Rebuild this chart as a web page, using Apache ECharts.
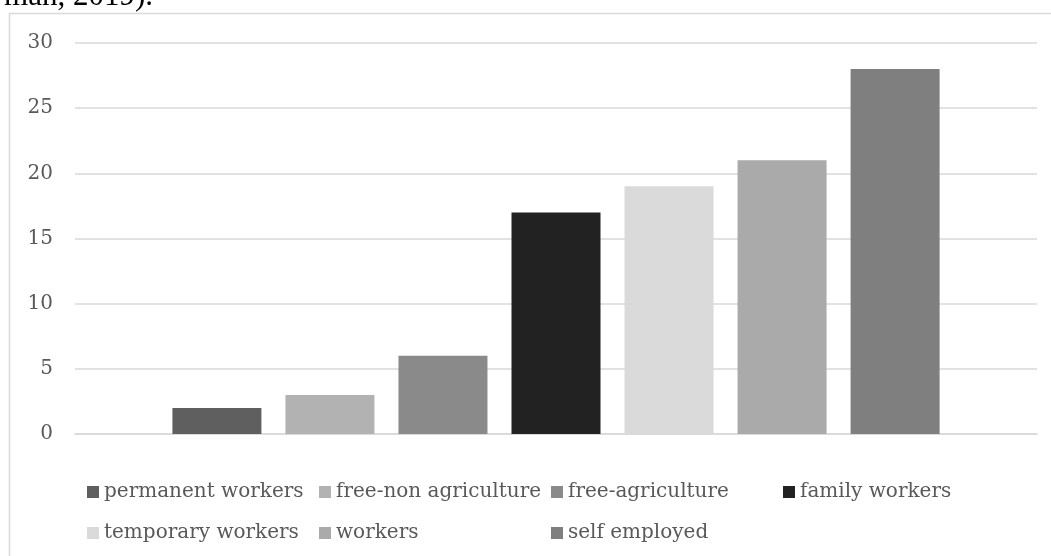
<!DOCTYPE html>
<html>
<head>
<meta charset="utf-8">
<script src="https://cdn.jsdelivr.net/npm/echarts@6/dist/echarts.min.js"></script>
<style>
html,body{margin:0;padding:0;background:#fff;}
#chart{width:1051px;height:556px;}
</style>
</head>
<body>
<div id="chart"></div>
<script>
const seriesNames = ['permanent workers','free-non agriculture','free-agriculture','family workers','temporary workers','workers','self employed'];
const seriesValues = [2, 3, 6, 17, 19, 21, 28];
const seriesColors = ['#5f5f5f','#b2b2b2','#8a8a8a','#222222','#dadada','#aaaaaa','#7f7f7f'];
const categories = [''];
const legendColumns = [
  ['permanent workers','temporary workers'],
  ['free-non agriculture','workers'],
  ['free-agriculture','self employed'],
  ['family workers']
];
const legendLefts = [82, 314, 546, 778];
const headerText = 'man, 2019).';

const chart = echarts.init(document.getElementById('chart'), null, {renderer:'canvas'});
const font = 'DejaVu Serif';
const option = {
  animation: false,
  backgroundColor: '#ffffff',
  grid: {left: 75, right: 14, top: 43, bottom: 122, containLabel: false},
  xAxis: {
    type: 'category', data: categories,
    axisLine: {show: true, lineStyle: {color: '#d9d9d9', width: 1.5}},
    axisTick: {show: false}, axisLabel: {show: false}
  },
  yAxis: {
    type: 'value', min: 0, max: 30, interval: 5,
    axisLine: {show: false}, axisTick: {show: false},
    axisLabel: {color: '#595959', fontFamily: font, fontSize: 20, margin: 22},
    splitLine: {lineStyle: {color: '#d9d9d9', width: 1.5}}
  },
  legend: legendColumns.map((col, i) => ({
    data: col, orient: 'vertical', left: legendLefts[i], top: 476,
    icon: 'rect', itemWidth: 12, itemHeight: 12, itemGap: 19,
    textStyle: {color: '#595959', fontFamily: font, fontSize: 20, lineHeight: 22}
  })),
  graphic: [
    {type: 'rect', silent: true, shape: {x: 9.5, y: 13.5, width: 1100, height: 600},
     style: {fill: 'none', stroke: '#d9d9d9', lineWidth: 1.5}},
    {type: 'text', silent: true, style: {x: 153, y: 12, text: headerText, align: 'right', verticalAlign: 'bottom',
     font: '31px "Liberation Serif"', fill: '#000000'}}
  ],
  series: seriesNames.map((n, i) => ({
    name: n, type: 'bar', data: [seriesValues[i]],
    barWidth: 89, barGap: '27%',
    itemStyle: {color: seriesColors[i]}
  }))
};
chart.setOption(option);
</script>
</body>
</html>
